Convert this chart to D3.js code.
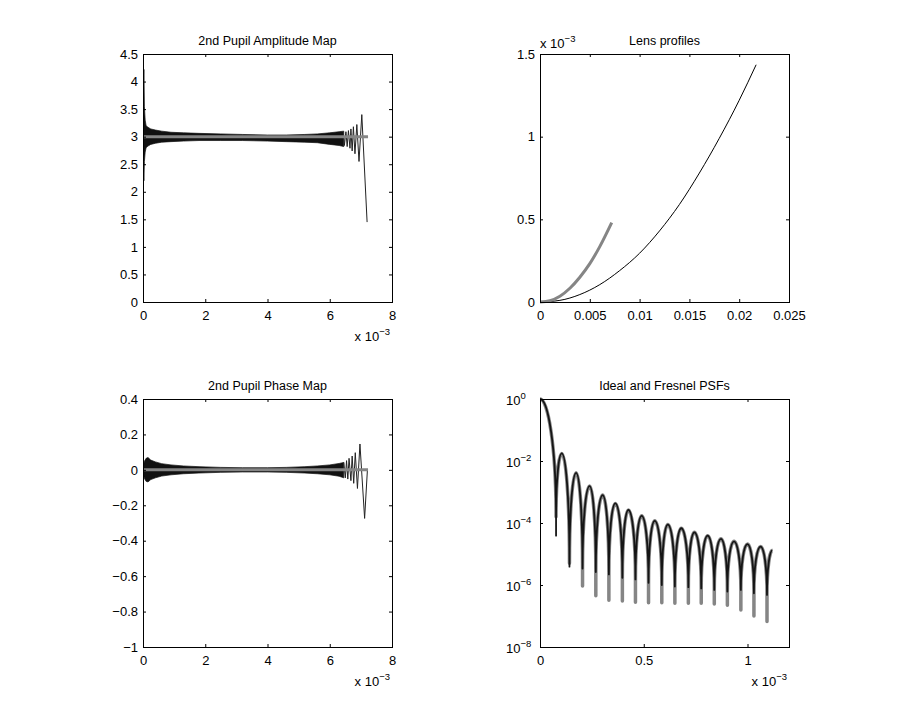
<!DOCTYPE html>
<html><head><meta charset="utf-8">
<script src="https://cdn.jsdelivr.net/npm/d3@7"></script>
<style>
body{margin:0;background:#fff}
svg text{font-family:"Liberation Sans",Arial,Helvetica,sans-serif;fill:#000}
</style>
</head><body>
<svg id="c" width="900" height="728"></svg>
<script>
// ---------------- DATA ----------------
// 2nd Pupil Amplitude Map (x in units of 1e-3)
const ampXTicks = [0, 2, 4, 6, 8];
const ampXLabels = ["0", "2", "4", "6", "8"];
const ampYTicks = [0, 0.5, 1, 1.5, 2, 2.5, 3, 3.5, 4, 4.5];
const ampYLabels = ["0", "0.5", "1", "1.5", "2", "2.5", "3", "3.5", "4", "4.5"];
// dense oscillation band (envelope of the Fresnel amplitude)
const ampEnvX  = [0, 0.03, 0.045, 0.07, 0.1, 0.16, 0.25, 0.4, 0.6, 0.9, 1.3, 1.8, 2.5, 3.2, 4.0, 4.6, 5.2, 5.6, 6.0, 6.3, 6.45];
const ampEnvHi = [3.6, 4.22, 3.55, 3.3, 3.2, 3.17, 3.14, 3.12, 3.1, 3.08, 3.07, 3.06, 3.05, 3.04, 3.03, 3.03, 3.04, 3.05, 3.07, 3.09, 3.10];
const ampEnvLo = [2.5, 2.2, 2.55, 2.72, 2.8, 2.83, 2.86, 2.88, 2.9, 2.91, 2.92, 2.93, 2.93, 2.93, 2.92, 2.91, 2.90, 2.89, 2.86, 2.84, 2.82];
// resolved oscillations near the pupil edge
const ampTailX = [6.45, 6.47, 6.52, 6.56, 6.60, 6.65, 6.68, 6.72, 6.76, 6.81, 6.87, 6.94, 7.03, 7.20];
const ampTailY = [3.0, 2.84, 3.09, 2.82, 3.11, 2.79, 3.14, 2.74, 3.18, 2.69, 3.22, 2.55, 3.40, 1.45];
const idealX = [0, 7.23];
const idealAmp = [3, 3];

// 2nd Pupil Phase Map
const phYTicks = [-1, -0.8, -0.6, -0.4, -0.2, 0, 0.2, 0.4];
const phYLabels = ["\u22121", "\u22120.8", "\u22120.6", "\u22120.4", "\u22120.2", "0", "0.2", "0.4"];
const phEnvX  = [0, 0.05, 0.1, 0.16, 0.25, 0.4, 0.6, 0.9, 1.3, 1.8, 2.5, 3.2, 4.0, 4.6, 5.2, 5.6, 6.0, 6.3, 6.45];
const phEnvHi = [0.02, 0.05, 0.065, 0.07, 0.055, 0.045, 0.035, 0.028, 0.022, 0.018, 0.014, 0.012, 0.012, 0.014, 0.018, 0.022, 0.028, 0.036, 0.042];
const phEnvLo = [-0.02, -0.05, -0.065, -0.068, -0.055, -0.045, -0.035, -0.028, -0.022, -0.018, -0.014, -0.012, -0.012, -0.014, -0.018, -0.022, -0.028, -0.036, -0.045];
const phTailX = [6.45, 6.50, 6.54, 6.58, 6.62, 6.68, 6.72, 6.77, 6.82, 6.89, 6.97, 7.12, 7.21];
const phTailY = [0.042, -0.045, 0.052, -0.052, 0.065, -0.061, 0.078, -0.076, 0.097, -0.105, 0.146, -0.274, 0.0];
const idealPhase = [0, 0];

// Lens profiles (y in units of 1e-3)
const lensXTicks = [0, 0.005, 0.01, 0.015, 0.02, 0.025];
const lensXLabels = ["0", "0.005", "0.01", "0.015", "0.02", "0.025"];
const lensYTicks = [0, 0.5, 1, 1.5];
const lensYLabels = ["0", "0.5", "1", "1.5"];
const lensBlackX = [0, 0.002, 0.004, 0.006, 0.008, 0.010, 0.012, 0.014, 0.016, 0.018, 0.020, 0.0217];
const lensBlackY = [0, 0.010, 0.045, 0.105, 0.19, 0.295, 0.43, 0.59, 0.78, 0.99, 1.22, 1.435];
const lensGrayX = [0, 0.001, 0.002, 0.003, 0.004, 0.005, 0.006, 0.0072];
const lensGrayY = [0, 0.008, 0.035, 0.083, 0.15, 0.232, 0.335, 0.48];

// Ideal and Fresnel PSFs (x in units of 1e-3, values as log10)
const psfXTicks = [0, 0.5, 1];
const psfXLabels = ["0", "0.5", "1"];
const psfYTicks = [1e-8, 1e-6, 1e-4, 1e-2, 1];
const psfYExp = ["\u22128", "\u22126", "\u22124", "\u22122", "0"];
const psfStart = [0, 0];
const psfPeakX = [0.105, 0.174, 0.239, 0.302, 0.363, 0.426, 0.490, 0.553, 0.616, 0.681, 0.744, 0.808, 0.872, 0.935, 1.000, 1.063];
const psfPeakLog = [-1.755, -2.38, -2.81, -3.10, -3.37, -3.58, -3.77, -3.93, -4.05, -4.17, -4.30, -4.41, -4.51, -4.59, -4.68, -4.76];
const psfNullX = [0.0774, 0.142, 0.205, 0.269, 0.332, 0.397, 0.460, 0.523, 0.587, 0.650, 0.715, 0.777, 0.840, 0.903, 0.968, 1.031, 1.094];
const psfNullFresnel = [-4.41, -5.41, -5.47, -5.58, -5.66, -5.77, -5.82, -5.93, -6.0, -6.05, -6.07, -6.11, -6.16, -6.21, -6.16, -6.27, -6.32];
const psfNullIdeal = [-3.80, -5.30, -6.03, -6.35, -6.49, -6.52, -6.56, -6.57, -6.57, -6.59, -6.59, -6.59, -6.61, -6.65, -6.81, -7.0, -7.18];
const psfEnd = [1.12, -4.88];

// ---------------- DRAWING ----------------
const svg = d3.select("#c");
const GRAY = "#858585";
let clipId = 0;

function panel(o) {
  const g = svg.append("g");
  const x = d3.scaleLinear().domain(o.xDomain).range([o.left, o.left + o.w]);
  const y = (o.log ? d3.scaleLog() : d3.scaleLinear()).domain(o.yDomain).range([o.top + o.h, o.top]);
  const id = "clip" + (clipId++);
  svg.append("clipPath").attr("id", id).append("rect")
    .attr("x", o.left).attr("y", o.top - 2).attr("width", o.w + 1).attr("height", o.h + 4);
  const plot = g.append("g").attr("clip-path", `url(#${id})`);
  return Object.assign({g, x, y, plot}, o);
}

function axes(p, xt, xl, yt, yl) {
  const tl = -3;
  const style = s => {
    s.select(".domain").remove();
    s.selectAll(".tick line").attr("stroke", "#000");
    s.attr("font-family", null).attr("font-size", null);
    s.selectAll("text").attr("font-size", 13).attr("fill", "#000");
  };
  p.g.append("g").attr("transform", `translate(0,${p.top + p.h})`)
    .call(d3.axisBottom(p.x).tickValues(xt).tickFormat((d, i) => xl[i]).tickSizeInner(tl).tickSizeOuter(0).tickPadding(8.5))
    .call(style);
  p.g.append("g").attr("transform", `translate(0,${p.top})`)
    .call(d3.axisTop(p.x).tickValues(xt).tickFormat("").tickSizeInner(tl).tickSizeOuter(0))
    .call(style);
  const la = p.g.append("g").attr("transform", `translate(${p.left},0)`)
    .call(d3.axisLeft(p.y).tickValues(yt).tickFormat((d, i) => yl ? yl[i] : "").tickSizeInner(tl).tickSizeOuter(0).tickPadding(5))
    .call(style);
  p.g.append("g").attr("transform", `translate(${p.left + p.w},0)`)
    .call(d3.axisRight(p.y).tickValues(yt).tickFormat("").tickSizeInner(tl).tickSizeOuter(0))
    .call(style);
  p.g.append("rect").attr("x", p.left + 0.5).attr("y", p.top + 0.5)
    .attr("width", p.w).attr("height", p.h)
    .attr("fill", "none").attr("stroke", "#000").attr("stroke-width", 1);
  p.g.append("text").attr("x", p.left + p.w / 2).attr("y", p.top - 9)
    .attr("text-anchor", "middle").attr("font-size", 12.5).text(p.title);
  return la;
}

function sciLabel(p, x, y, anchor) {
  const t = p.g.append("text").attr("x", x).attr("y", y).attr("text-anchor", anchor).attr("font-size", 13);
  t.append("tspan").text("x 10");
  t.append("tspan").attr("dy", -6).attr("font-size", 9.5).text("\u22123");
}

// ---- Panel 1: amplitude
const p1 = panel({left: 143, top: 54, w: 249, h: 248, xDomain: [0, 8], yDomain: [0, 4.5], title: "2nd Pupil Amplitude Map"});
{
  const band = d3.range(ampEnvX.length);
  p1.plot.append("path").datum(band)
    .attr("d", d3.area().x(i => p1.x(ampEnvX[i])).y0(i => p1.y(ampEnvLo[i])).y1(i => p1.y(ampEnvHi[i])))
    .attr("fill", "#111").attr("stroke", "#111").attr("stroke-width", 0.7);
  p1.plot.append("path").datum(d3.range(ampTailX.length))
    .attr("d", d3.line().x(i => p1.x(ampTailX[i])).y(i => p1.y(ampTailY[i])))
    .attr("fill", "none").attr("stroke", "#222").attr("stroke-width", 1);
  p1.plot.append("path").datum(d3.range(idealX.length))
    .attr("d", d3.line().x(i => p1.x(idealX[i])).y(i => p1.y(idealAmp[i])))
    .attr("fill", "none").attr("stroke", GRAY).attr("stroke-width", 3);
}
axes(p1, ampXTicks, ampXLabels, ampYTicks, ampYLabels);
sciLabel(p1, p1.left + p1.w - 2, p1.top + p1.h + 39, "end");

// ---- Panel 2: lens profiles
const p2 = panel({left: 540, top: 54, w: 249, h: 248, xDomain: [0, 0.025], yDomain: [0, 1.5], title: "Lens profiles"});
{
  p2.plot.append("path").datum(d3.range(lensBlackX.length))
    .attr("d", d3.line().curve(d3.curveMonotoneX).x(i => p2.x(lensBlackX[i])).y(i => p2.y(lensBlackY[i])))
    .attr("fill", "none").attr("stroke", "#000").attr("stroke-width", 1);
  p2.plot.append("path").datum(d3.range(lensGrayX.length))
    .attr("d", d3.line().curve(d3.curveMonotoneX).x(i => p2.x(lensGrayX[i])).y(i => p2.y(lensGrayY[i])))
    .attr("fill", "none").attr("stroke", GRAY).attr("stroke-width", 3);
}
axes(p2, lensXTicks, lensXLabels, lensYTicks, lensYLabels);
sciLabel(p2, p2.left, p2.top - 6, "start");

// ---- Panel 3: phase
const p3 = panel({left: 143, top: 399, w: 249, h: 248, xDomain: [0, 8], yDomain: [-1, 0.4], title: "2nd Pupil Phase Map"});
{
  p3.plot.append("path").datum(d3.range(phEnvX.length))
    .attr("d", d3.area().x(i => p3.x(phEnvX[i])).y0(i => p3.y(phEnvLo[i])).y1(i => p3.y(phEnvHi[i])))
    .attr("fill", "#111").attr("stroke", "#111").attr("stroke-width", 0.7);
  p3.plot.append("path").datum(d3.range(phTailX.length))
    .attr("d", d3.line().x(i => p3.x(phTailX[i])).y(i => p3.y(phTailY[i])))
    .attr("fill", "none").attr("stroke", "#222").attr("stroke-width", 1);
  p3.plot.append("path").datum(d3.range(idealX.length))
    .attr("d", d3.line().x(i => p3.x(idealX[i])).y(i => p3.y(idealPhase[i])))
    .attr("fill", "none").attr("stroke", GRAY).attr("stroke-width", 3);
}
axes(p3, ampXTicks, ampXLabels, phYTicks, phYLabels);
sciLabel(p3, p3.left + p3.w - 2, p3.top + p3.h + 39, "end");

// ---- Panel 4: PSFs (log)
const p4 = panel({left: 540, top: 399, w: 249, h: 248, xDomain: [0, 1.2], yDomain: [1e-8, 1], log: true, title: "Ideal and Fresnel PSFs"});
function psfPath(nullOwn) {
  const X = p4.x, Y = v => p4.y(Math.pow(10, v));
  const pts = [{x: psfStart[0], v: psfStart[1], t: "f"}];
  psfNullX.forEach((nx, i) => {
    const arch = Math.max(psfNullFresnel[i], psfNullIdeal[i]);
    pts.push({x: nx, v: arch, t: "v", s: nullOwn[i]});
    if (i < psfPeakX.length) pts.push({x: psfPeakX[i], v: psfPeakLog[i], t: "f"});
  });
  pts.push({x: psfEnd[0], v: psfEnd[1], t: "f"});
  const a = 0.5, b = 0.6;
  const path = d3.path();
  path.moveTo(X(pts[0].x), Y(pts[0].v));
  for (let k = 1; k < pts.length; k++) {
    const A = pts[k - 1], B = pts[k];
    const ax = X(A.x), ay = Y(A.v), bx = X(B.x), by = Y(B.v);
    if (A.t === "f" && B.t === "v") {
      path.bezierCurveTo(ax + a * (bx - ax), ay, bx, by + b * (ay - by), bx, by);
    } else if (A.t === "v" && B.t === "f") {
      path.bezierCurveTo(ax, ay + b * (by - ay), bx - a * (bx - ax), by, bx, by);
    } else {
      path.lineTo(bx, by);
    }
    if (B.t === "v" && B.s !== B.v) {
      path.lineTo(bx, Y(B.s));
      path.lineTo(bx, by);
    }
  }
  return path.toString();
}
p4.plot.append("path").attr("d", psfPath(psfNullIdeal))
  .attr("fill", "none").attr("stroke", GRAY).attr("stroke-width", 3.5).attr("stroke-linejoin", "round");
p4.plot.append("path").attr("d", psfPath(psfNullFresnel))
  .attr("fill", "none").attr("stroke", "#151515").attr("stroke-width", 1.8).attr("stroke-linejoin", "round");
const la4 = axes(p4, psfXTicks, psfXLabels, psfYTicks, null);
la4.selectAll(".tick").each(function(d, i) {
  const t = d3.select(this).select("text");
  t.text(null).attr("text-anchor", "start").attr("x", -34).attr("dy", null).attr("y", 5);
  t.append("tspan").text("10");
  t.append("tspan").attr("dy", -6).attr("font-size", 9.5).text(psfYExp[i]);
});
sciLabel(p4, p4.left + p4.w - 2, p4.top + p4.h + 39, "end");
</script>
</body></html>
